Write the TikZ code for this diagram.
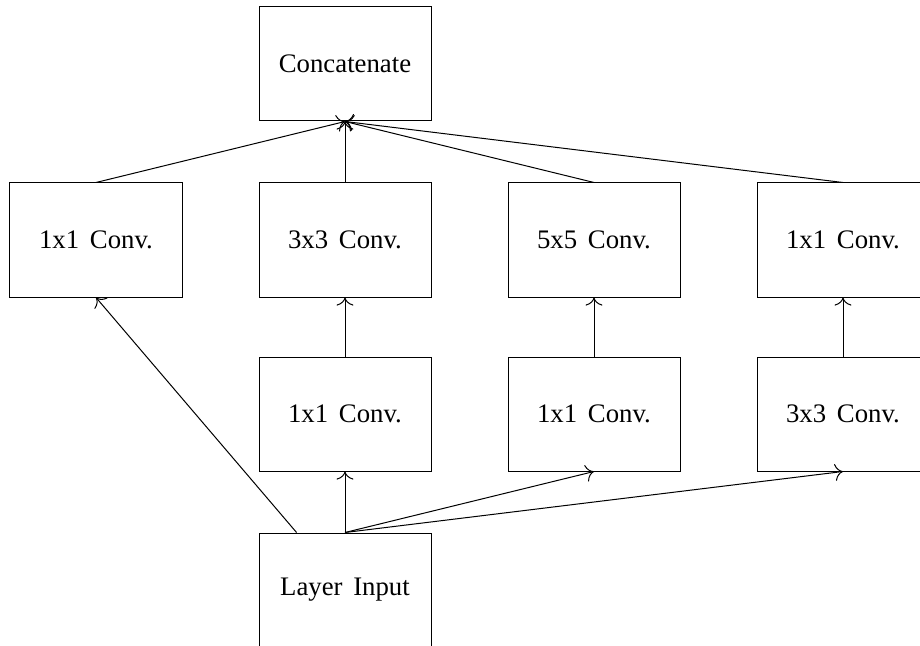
\documentclass[tikz,border=0pt]{standalone}
\usepackage{fontspec}
\setmainfont{Liberation Serif}
\usetikzlibrary{calc,arrows.meta}
\newcommand\widerspaces{\spaceskip=4.3pt\relax}
\begin{document}
\begin{tikzpicture}[x=0.4pt,y=-0.4pt,
  layer/.style={draw,rectangle,minimum width=68.8pt,minimum height=45.6pt,
    inner sep=0pt,font=\fontsize{10.7}{13}\selectfont,
    execute at begin node=\widerspaces},
  flow/.style={-{To[scale=1.3]}}]
  \useasboundingbox (0,0) rectangle (920,646);
  \clip (0,0) rectangle (920,646);
  % output
  \node[layer] (cat) at (345,64) {Concatenate};
  % branch outputs
  \node[layer] (a1) at (96,240)  {1x1 Conv.};
  \node[layer] (b2) at (345,240) {3x3 Conv.};
  \node[layer] (c2) at (594,240) {5x5 Conv.};
  \node[layer] (d2) at (843,240) {1x1 Conv.};
  % branch first stages
  \node[layer] (b1) at (345,414) {1x1 Conv.};
  \node[layer] (c1) at (594,414) {1x1 Conv.};
  \node[layer] (d1) at (843,414) {3x3 Conv.};
  % input
  \node[layer] (in) at (345,590) {Layer Input};
  % input to branches
  \draw[flow] ($(in.north west)!0.22!(in.north east)$) -- (a1.south);
  \draw[flow] (in.north) -- (b1.south);
  \draw[flow] (in.north) -- (c1.south);
  \draw[flow] (in.north) -- (d1.south);
  % inside the branches
  \draw[flow] (b1.north) -- (b2.south);
  \draw[flow] (c1.north) -- (c2.south);
  \draw[flow] (d1.north) -- (d2.south);
  % branches to concatenation
  \draw[flow] (a1.north) -- (cat.south);
  \draw[flow] (b2.north) -- (cat.south);
  \draw[flow] (c2.north) -- (cat.south);
  \draw[flow] (d2.north) -- (cat.south);
\end{tikzpicture}
\end{document}
